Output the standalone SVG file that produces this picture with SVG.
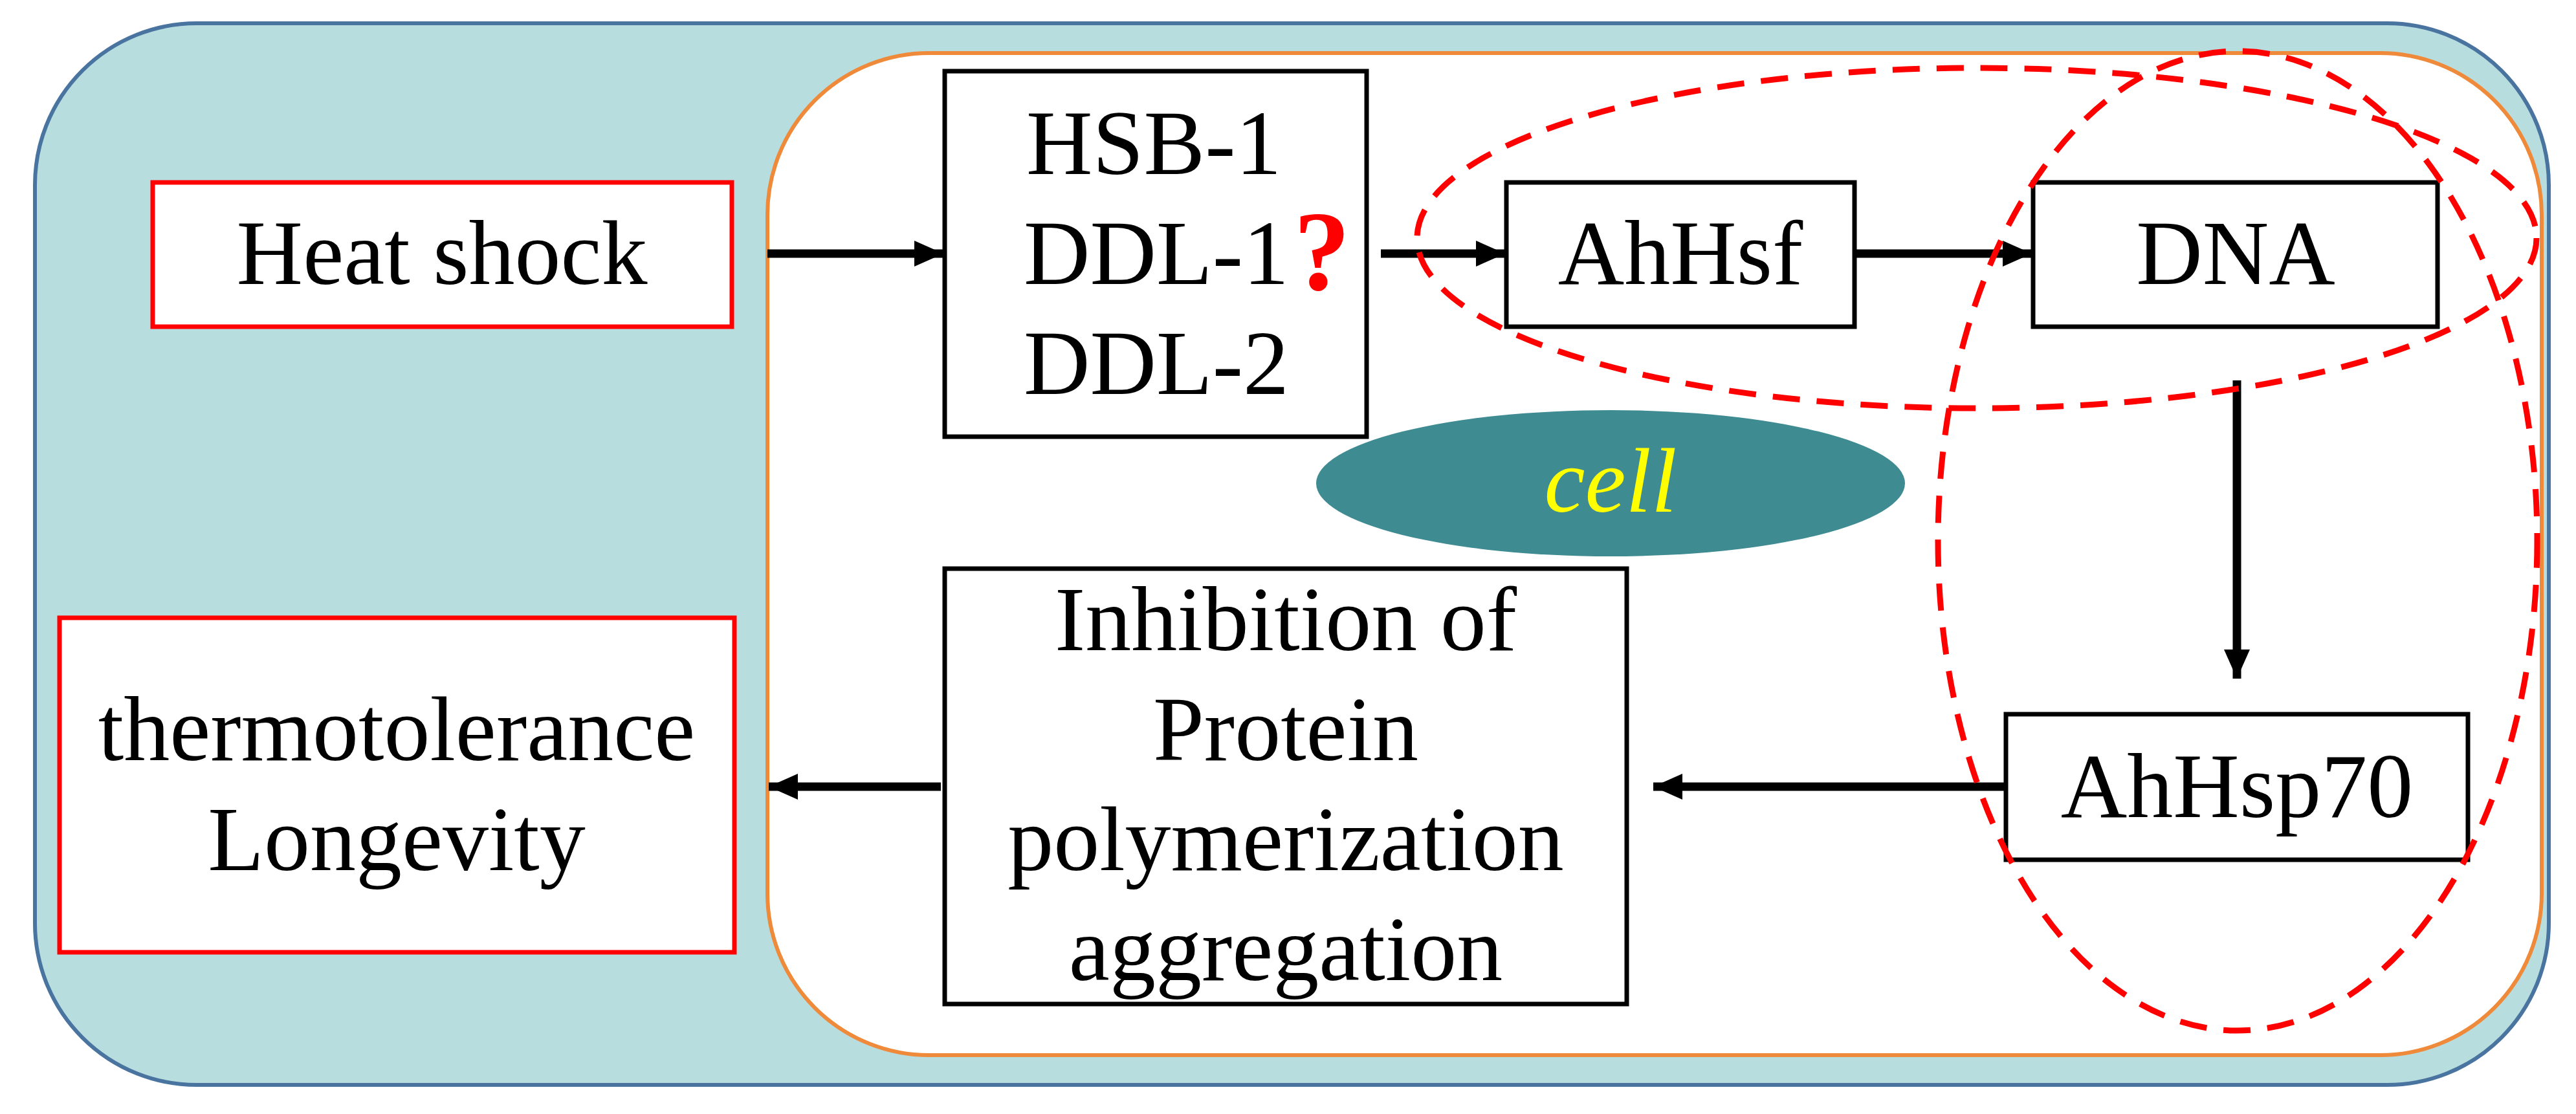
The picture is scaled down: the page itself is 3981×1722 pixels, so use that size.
<svg xmlns="http://www.w3.org/2000/svg" width="3981" height="1722" viewBox="0 0 3981 1722">
<style>
.t{font-family:"Liberation Serif","Times New Roman",serif;font-size:142px;fill:#000}
.bx{fill:#fff;stroke:#000;stroke-width:7}
.rb{fill:#fff;stroke:#f00;stroke-width:7}
.ar{stroke:#000;stroke-width:13;fill:none;marker-end:url(#ah)}
.dash{fill:none;stroke:#f00;stroke-width:9;stroke-dasharray:42 26}
</style>
<defs>
<marker id="ah" markerUnits="userSpaceOnUse" markerWidth="50" markerHeight="50" refX="45" refY="25" orient="auto"><path d="M0,5 L45,25 L0,45 Z" fill="#000"/></marker>
</defs>
<rect x="54" y="36" width="3885" height="1641" rx="250" fill="#b8dddf" stroke="#4a74a0" stroke-width="6"/>
<rect x="1186" y="82" width="2742" height="1549" rx="250" fill="#fff" stroke="#ef8a3a" stroke-width="6"/>
<g id="connectors">
<line class="ar" x1="1186" y1="392" x2="1458" y2="392"/>
<line class="ar" x1="2134" y1="392" x2="2326" y2="392"/>
<line class="ar" x1="2866" y1="392" x2="3140" y2="392"/>
<line class="ar" x1="3457" y1="588" x2="3457" y2="1049"/>
<line class="ar" x1="3098" y1="1216" x2="2555" y2="1216"/>
<line class="ar" x1="1454" y1="1216" x2="1188" y2="1216"/>
</g>
<g id="heat"><rect class="rb" x="236" y="282" width="895" height="223"/><text class="t" x="683" y="439" text-anchor="middle">Heat shock</text></g>
<g id="thermo"><rect class="rb" x="92" y="955" width="1043" height="517"/><text class="t" x="613" y="1175" text-anchor="middle">thermotolerance</text><text class="t" x="613" y="1345" text-anchor="middle">Longevity</text></g>
<g id="hsb"><rect class="bx" x="1460" y="110" width="652" height="565"/>
<text class="t" x="1586" y="269">HSB-1</text><text class="t" x="1582" y="439">DDL-1</text><text class="t" x="1582" y="609">DDL-2</text>
<text x="2043" y="448" text-anchor="middle" font-family="Liberation Serif,serif" font-weight="bold" font-size="175" fill="#f00">?</text></g>
<g id="inhib"><rect class="bx" x="1460" y="879" width="1054" height="673"/>
<text class="t" x="1987" y="1005" text-anchor="middle">Inhibition of</text>
<text class="t" x="1987" y="1175" text-anchor="middle">Protein</text>
<text class="t" x="1987" y="1345" text-anchor="middle">polymerization</text>
<text class="t" x="1987" y="1515" text-anchor="middle">aggregation</text></g>
<g id="ahhsf"><rect class="bx" x="2328" y="282" width="538" height="223"/><text class="t" x="2597" y="439" text-anchor="middle">AhHsf</text></g>
<g id="dna"><rect class="bx" x="3142" y="282" width="625" height="223"/><text class="t" x="3455" y="439" text-anchor="middle">DNA</text></g>
<g id="hsp70"><rect class="bx" x="3100" y="1104" width="714" height="225"/><text class="t" x="3457" y="1263" text-anchor="middle">AhHsp70</text></g>
<g id="cell"><ellipse cx="2489" cy="747" rx="455" ry="113" fill="#3e8b91"/><text class="t" x="2489" y="791" text-anchor="middle" font-style="italic" style="fill:#ffff00">cell</text></g>
<g id="regions">
<ellipse class="dash" cx="3055" cy="368" rx="865" ry="263"/>
<ellipse class="dash" cx="3458" cy="836" rx="463" ry="757"/>
</g>
</svg>
